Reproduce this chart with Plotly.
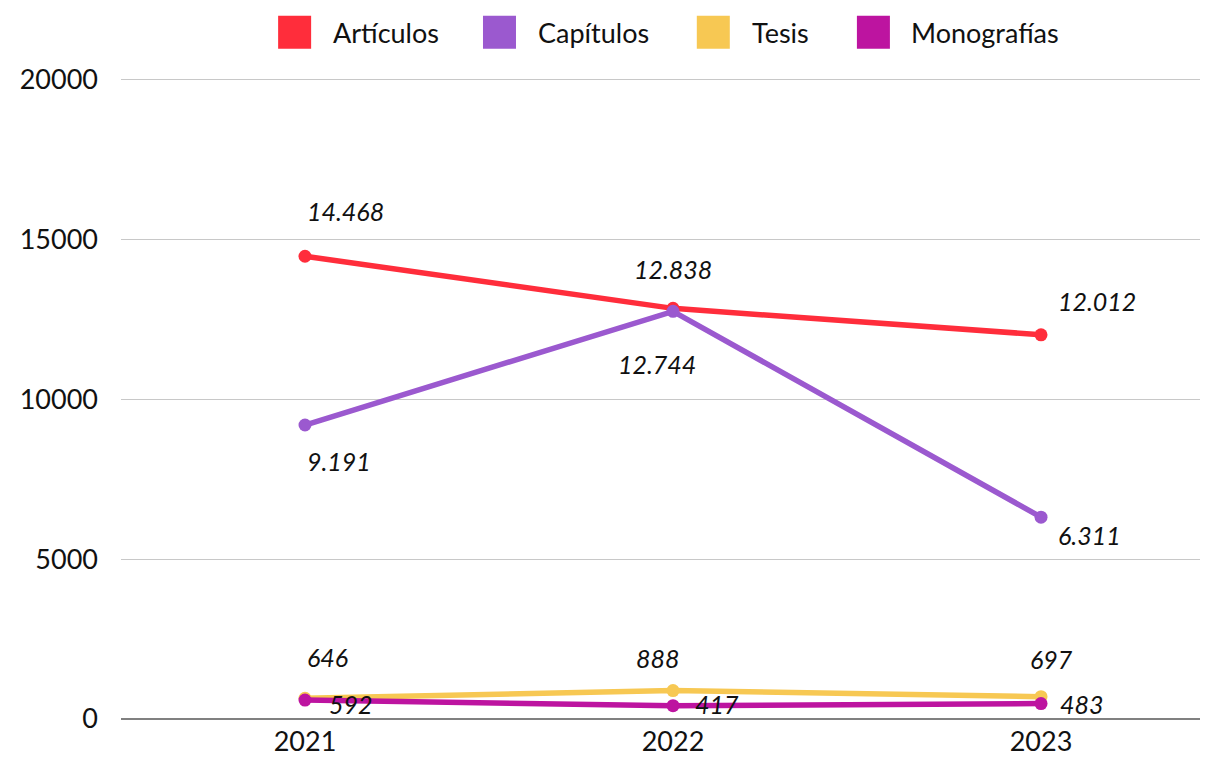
import plotly.graph_objects as go

years = ["2021", "2022", "2023"]
series_names = ["Artículos", "Capítulos", "Tesis", "Monografías"]
articulos = [14468, 12838, 12012]
capitulos = [9191, 12744, 6311]
tesis = [646, 888, 697]
monografias = [592, 417, 483]
y_ticks = [0, 5000, 10000, 15000, 20000]

colors = ["#FF2D3B", "#9B59CF", "#F7C853", "#BD14A0"]
values = [articulos, capitulos, tesis, monografias]

# label offsets (style): (xshift, yshift, xanchor) per series per point
label_style = [
    [(0, 45, "left"), (0, 39, "center"), (15, 34, "left")],
    [(0, -36, "left"), (-16, -53, "center"), (15, -18, "left")],
    [(0, 41, "left"), (-15, 33, "center"), (10, 38, "center")],
    [(22, -4, "left"), (20, 2, "left"), (17, 0, "left")],
]

def fmt(v):
    return f"{v:,}".replace(",", ".")

FONT = "Lato"
W, H = 1214, 761
L, R, T, B = 107, 22, 70, 47
PW, PH = W - L - R, H - T - B
Y_MAX = 20040

fig = go.Figure()
for name, vals, col in zip(series_names, values, colors):
    fig.add_trace(go.Scatter(
        x=years, y=vals, mode="lines+markers", name=name,
        line=dict(color=col, width=5.5), marker=dict(color=col, size=13),
        showlegend=False,
    ))

annotations = []
for vals, styles in zip(values, label_style):
    for i, (v, (dx, dy, xa)) in enumerate(zip(vals, styles)):
        annotations.append(dict(
            x=i, y=v, xref="x", yref="y", text=f"<i>{fmt(v)}</i>",
            showarrow=False, xanchor=xa, yanchor="middle",
            xshift=dx, yshift=dy,
            font=dict(family=FONT, size=25, color="#111111"),
        ))

# custom legend (square swatches), positions in figure pixels
legend_sq_x = [265, 471, 686, 847]
legend_tx_x = [318, 524, 740, 899]
legend_cy = 24
sq = 33

def px2paper_x(px):
    return (px - L) / PW

def px2paper_y(py):
    return 1 - (py - T) / PH

shapes = []
for name, col, sx, tx in zip(series_names, colors, legend_sq_x, legend_tx_x):
    shapes.append(dict(
        type="rect", xref="paper", yref="paper", xsizemode="pixel", ysizemode="pixel",
        xanchor=px2paper_x(sx), yanchor=px2paper_y(legend_cy),
        x0=0, x1=sq, y0=-sq / 2, y1=sq / 2,
        fillcolor=col, line=dict(width=0),
    ))
    annotations.append(dict(
        x=px2paper_x(tx), y=px2paper_y(legend_cy), xref="paper", yref="paper",
        text=name, showarrow=False, xanchor="left", yanchor="middle",
        font=dict(family=FONT, size=27, color="#111111"),
    ))

fig.update_layout(
    width=W, height=H,
    margin=dict(l=L, r=R, t=T, b=B),
    paper_bgcolor="white", plot_bgcolor="white",
    font=dict(family=FONT, size=27, color="#111111"),
    annotations=annotations,
    shapes=shapes,
    showlegend=False,
    xaxis=dict(type="category", range=[-0.5, 2.432], showgrid=False, showline=False, ticks="",
               tickfont=dict(size=27), zeroline=False, ticklabelstandoff=4),
    yaxis=dict(range=[0, Y_MAX], tickvals=y_ticks, ticktext=[str(t) for t in y_ticks],
               showgrid=True, gridcolor="#c8c8c8", gridwidth=1,
               zeroline=True, zerolinecolor="#808080", zerolinewidth=1.5,
               ticks="", ticklabelstandoff=22, tickfont=dict(size=27)),
)
fig.write_html("out.html")
